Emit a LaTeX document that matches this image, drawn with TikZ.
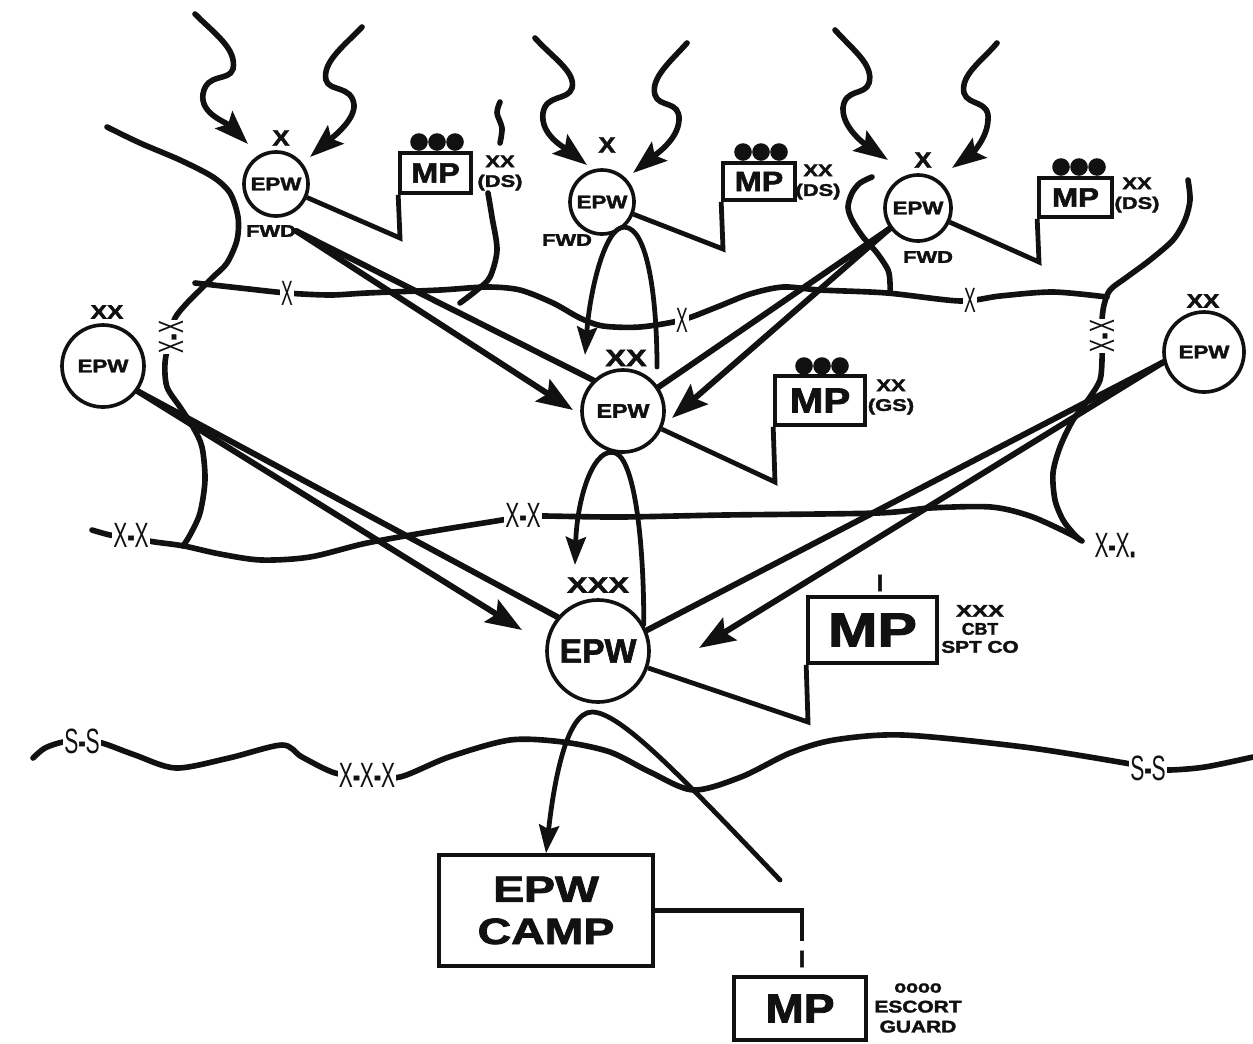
\documentclass[tikz,border=0pt]{standalone}
\usepackage{fontspec}
\setmainfont{Liberation Sans}[BoldFeatures={FakeBold=2}]
\usepackage{graphicx}
\usetikzlibrary{arrows.meta}
\definecolor{EPWInk}{HTML}{111111}
\newcommand{\hsx}[2]{\scalebox{#1}[1]{#2}}
\tikzset{
  pcircle/.style={circle,draw=EPWInk,fill=white,line width=2.6pt,inner sep=0pt,
    text=EPWInk,font=\bfseries\fontsize{13}{13}\selectfont},
  pbox/.style={rectangle,draw=EPWInk,fill=white,line width=2.6pt,inner sep=0pt,text=EPWInk},
  pdot/.style={circle,fill=EPWInk,inner sep=0pt,minimum size=4.4mm},
  plbl/.style={inner sep=0pt,text=EPWInk,font=\bfseries\fontsize{14}{14}\selectfont},
  pside/.style={inner sep=0pt,align=center,text=EPWInk,font=\bfseries\fontsize{12}{14}\selectfont},
  pbmark/.style={inner sep=0.8pt,fill=white,text=EPWInk,font=\fontsize{25}{25}\selectfont},
  pbound/.style={line width=4pt,line cap=round,line join=round,EPWInk},
  plink/.style={line width=3.4pt,line join=miter,EPWInk},
  pline/.style={line width=4.2pt,line cap=round,EPWInk},
  parrow/.style={pline,-{Stealth[length=9mm,width=6.5mm,inset=1.5mm]}},
  pwave/.style={line width=4pt,line cap=round,EPWInk,-{Stealth[length=8.5mm,width=6mm,inset=1.5mm]}},
  ploop/.style={line width=3.4pt,line cap=round,EPWInk,-{Stealth[length=7mm,width=5mm,inset=1mm]}}
}

\begin{document}
\begin{tikzpicture}[x=0.25mm,y=-0.25mm]
  \path[use as bounding box] (0,0) rectangle (1253,1043);

  \draw[pbound] plot[smooth] coordinates {(107,127) (140,143) (180,160) (213,177) (230,193) (238,217)
    (237,240) (227,263) (213,277) (200,290) (187,303) (175,318) (170,337) (165,363) (167,387)
    (180,407) (193,427) (202,447) (205,480) (200,513) (190,535) (183,546)};
  \draw[pbound] plot[smooth] coordinates {(195,283) (240,288) (287,293) (330,295) (367,293) (440,290)
    (487,287) (520,290) (553,303) (580,318) (603,326) (640,327) (682,320) (717,307) (750,294)
    (783,287) (820,290) (887,293) (960,301) (1000,296) (1053,292) (1107,297)};
  \draw[pbound] plot[smooth] coordinates {(1188,180) (1190,200) (1185,220) (1173,240) (1150,260)
    (1127,277) (1110,290) (1104,305) (1102,320) (1102,336) (1102,360) (1100,380) (1090,397)
    (1073,420) (1060,447) (1053,473) (1055,500) (1063,520) (1073,533) (1080,540)};
  \draw[pbound] plot[smooth] coordinates {(500,102) (497,113) (502,128) (500,143)};
  \draw[pbound] plot[smooth] coordinates {(488,193) (492,217) (497,250) (490,277) (477,290) (460,303)};
  \draw[pbound] plot[smooth] coordinates {(872,177) (860,183) (852,193) (848,207) (852,220) (863,237)
    (877,253) (888,270) (890,283) (890,293)};
  \draw[pbound] plot[smooth] coordinates {(92,530) (110,535) (131,538) (155,542) (184,546) (220,554)
    (261,560) (310,557) (367,543) (440,530) (502,520) (523,516) (545,516) (620,517) (725,515)
    (878,513) (930,508) (991,507) (1030,516) (1068,533) (1082,541)};
  \draw[pbound] plot[smooth] coordinates {(33,758) (45,748) (63,742) (82,741) (102,743) (135,755)
    (176,768) (229,758) (282,745) (302,757) (335,773) (367,776) (400,777) (449,757) (510,740)
    (563,742) (610,752) (650,772) (693,790) (741,777) (790,753) (834,740) (903,735) (1024,747)
    (1125,763) (1148,768) (1169,770) (1205,767) (1253,757)};

  \node[pbmark] (bx1) at (287,293) {\hsx{0.5}{X}};
  \node[pbmark] (bx2) at (682,320) {\hsx{0.5}{X}};
  \node[pbmark] (bx3) at (970,300) {\hsx{0.5}{X}};
  \node[pbmark,rotate=90] (bvL) at (171,337) {\hsx{0.55}{X\textbf{-}X}};
  \node[pbmark,rotate=90] (bvR) at (1102,336) {\hsx{0.55}{X\textbf{-}X}};
  \node[pbmark] (bbL) at (131,535) {\hsx{0.6}{X\textbf{-}X}};
  \node[pbmark] (bbM) at (523,515) {\hsx{0.6}{X\textbf{-}X}};
  \node[pbmark] (bbR) at (1115,545) {\hsx{0.6}{X\textbf{-}X\textbf{.}}};
  \node[pbmark] (bsL) at (82,741) {\hsx{0.6}{S\textbf{-}S}};
  \node[pbmark] (bsM) at (367,775) {\hsx{0.6}{X\textbf{-}X\textbf{-}X}};
  \node[pbmark] (bsR) at (1148,768) {\hsx{0.6}{S\textbf{-}S}};

  \node[pcircle,minimum size=16mm] (e1) at (276,184) {\hsx{1.22}{EPW}};
  \node[pcircle,minimum size=16mm] (e2) at (602,202) {\hsx{1.22}{EPW}};
  \node[pcircle,minimum size=16.5mm] (e3) at (918,208) {\hsx{1.22}{EPW}};
  \node[pcircle,minimum size=20.5mm] (eL) at (103,366) {\hsx{1.22}{EPW}};
  \node[pcircle,minimum size=20mm] (eR) at (1204,352) {\hsx{1.22}{EPW}};
  \node[pcircle,minimum size=20.5mm,font=\bfseries\fontsize{14}{14}\selectfont] (eM) at (623,411) {\hsx{1.18}{EPW}};
  \node[pcircle,minimum size=25.5mm,font=\bfseries\fontsize{24}{24}\selectfont] (eX) at (598,651) {EPW};

  \node[plbl,font=\bfseries\fontsize{16}{16}\selectfont] (x1) at (281,138) {\hsx{1.15}{X}};
  \node[plbl,font=\bfseries\fontsize{16}{16}\selectfont] (x2) at (607,145) {\hsx{1.15}{X}};
  \node[plbl,font=\bfseries\fontsize{16}{16}\selectfont] (x3) at (923,160) {\hsx{1.15}{X}};
  \node[plbl,font=\bfseries\fontsize{12}{12}\selectfont] (fwd1) at (271,231) {\hsx{1.3}{FWD}};
  \node[plbl,font=\bfseries\fontsize{12}{12}\selectfont] (fwd2) at (567,240) {\hsx{1.3}{FWD}};
  \node[plbl,font=\bfseries\fontsize{12}{12}\selectfont] (fwd3) at (928,257) {\hsx{1.3}{FWD}};
  \node[plbl] (xxL) at (107,312) {\hsx{1.25}{XX}};
  \node[plbl] (xxR) at (1203,301) {\hsx{1.25}{XX}};
  \node[plbl,font=\bfseries\fontsize{17}{17}\selectfont] (xxM) at (626,358) {\hsx{1.3}{XX}};
  \node[plbl,font=\bfseries\fontsize{16}{16}\selectfont] (xxx) at (598,585) {\hsx{1.38}{XXX}};

  \node[pbox,minimum width=17.75mm,minimum height=10mm,font=\bfseries\fontsize{20}{20}\selectfont]
    (mp1) at (435.5,173) {\hsx{1.15}{MP}};
  \node[pbox,minimum width=18mm,minimum height=9.25mm,font=\bfseries\fontsize{20}{20}\selectfont]
    (mp2) at (759,181.5) {\hsx{1.15}{MP}};
  \node[pbox,minimum width=18.25mm,minimum height=9.75mm,font=\bfseries\fontsize{19}{19}\selectfont]
    (mp3) at (1075.5,197.5) {\hsx{1.17}{MP}};
  \node[pbox,minimum width=22.5mm,minimum height=12.25mm,font=\bfseries\fontsize{25}{25}\selectfont]
    (mpM) at (820,400.5) {\hsx{1.15}{MP}};
  \node[pbox,minimum width=32.25mm,minimum height=16.5mm,font=\bfseries\fontsize{34}{34}\selectfont]
    (mpC) at (872.5,630) {\hsx{1.24}{MP}};
  \node[pbox,minimum width=33mm,minimum height=15.75mm,font=\bfseries\fontsize{29}{29}\selectfont]
    (mpE) at (800,1008.5) {\hsx{1.13}{MP}};
  \node[pbox,minimum width=53.5mm,minimum height=27.75mm,align=center,font=\bfseries\fontsize{26}{30}\selectfont]
    (camp) at (546,910.5) {\hsx{1.27}{EPW}\\\hsx{1.27}{CAMP}};

  \node[pdot] (mp1a) at (419,142) {};
  \node[pdot] (mp1b) at (437,142) {};
  \node[pdot] (mp1c) at (455,142) {};
  \node[pdot] (mp2a) at (743,152) {};
  \node[pdot] (mp2b) at (761,152) {};
  \node[pdot] (mp2c) at (779,152) {};
  \node[pdot] (mp3a) at (1061,167) {};
  \node[pdot] (mp3b) at (1079,167) {};
  \node[pdot] (mp3c) at (1097,167) {};
  \node[pdot] (mpMa) at (804,366) {};
  \node[pdot] (mpMb) at (822,366) {};
  \node[pdot] (mpMc) at (840,366) {};
  \node[plbl,font=\bfseries\fontsize{17}{17}\selectfont] (ecC) at (880,583) {I};
  \node[plbl,font=\bfseries\fontsize{17}{17}\selectfont] (ecE) at (802,959) {I};

  \node[pside] (sd1) at (500,173) {\hsx{1.3}{XX}\\\hsx{1.3}{(DS)}};
  \node[pside] (sd2) at (818,182) {\hsx{1.3}{XX}\\\hsx{1.3}{(DS)}};
  \node[pside] (sd3) at (1137,195) {\hsx{1.3}{XX}\\\hsx{1.3}{(DS)}};
  \node[pside] (sdM) at (891,397) {\hsx{1.3}{XX}\\\hsx{1.3}{(GS)}};
  \node[pside,font=\bfseries\fontsize{12}{12.8}\selectfont] (sdC) at (980,629)
    {\hsx{1.42}{XXX}\\\hsx{1.05}{CBT}\\\hsx{1.23}{SPT CO}};
  \node[pside,font=\bfseries\fontsize{12}{14.2}\selectfont] (sdE) at (918,1008)
    {\hsx{1.15}{oooo}\\\hsx{1.24}{ESCORT}\\\hsx{1.24}{GUARD}};

  \coordinate (k1) at (400,238);
  \coordinate (k2) at (723,249);
  \coordinate (k3) at (1039,262);
  \coordinate (kM) at (775,482);
  \coordinate (kX) at (808,722);
  \draw[plink] (e1) -- (k1) -- (mp1.south west);
  \draw[plink] (e2) -- (k2) -- (mp2.south west);
  \draw[plink] (e3) -- (k3) -- (mp3.south west);
  \draw[plink] (eM) -- (kM) -- (mpM.south west);
  \draw[plink] (eX) -- (kX) -- (mpC.south west);
  \draw[plink,shorten >=2.5mm] (camp.east) -| (ecE.north);

  \coordinate (tA1) at (573,410);
  \coordinate (tA3) at (672,418);
  \coordinate (tA2) at (522,630);
  \coordinate (tA4) at (699,648);
  \draw[parrow] (fwd1.east) -- (tA1);
  \draw[pline] (fwd1.east) -- (eM.134);
  \draw[parrow] (e3.216) -- (tA3);
  \draw[pline] (e3.216) -- (eM.34);
  \draw[parrow] (eL.-36) -- (tA2);
  \draw[pline] (eL.-36) -- (eX.140);
  \draw[parrow] (eR.194) -- (tA4);
  \draw[pline] (eR.194) -- (eX.23);

  \coordinate (lA) at (657,367);
  \coordinate (tLA) at (585,355);
  \coordinate (tLB) at (575,565);
  \coordinate (lC) at (780,880);
  \coordinate (aC) at (592,712);
  \draw[ploop] (lA) .. controls (657,300) and (648,228) .. (e2.-48)
    .. controls (605,226) and (590,290) .. (tLA);
  \draw[ploop] (eX.30) .. controls (644,540) and (634,451) .. (eM.255)
    .. controls (592,451) and (577,500) .. (tLB);
  \draw[ploop] (lC) .. controls (680,775) and (620,712) .. (aC)
    .. controls (565,712) and (553,790) .. (camp.north);

  \coordinate (s1L) at (195,14);
  \coordinate (t1L) at (248,144);
  \coordinate (s1R) at (362,27);
  \coordinate (t1R) at (310,157);
  \coordinate (s2L) at (535,38);
  \coordinate (t2L) at (587,165);
  \coordinate (s2R) at (687,43);
  \coordinate (t2R) at (633,173);
  \coordinate (s3L) at (835,30);
  \coordinate (t3L) at (888,160);
  \coordinate (s3R) at (997,43);
  \coordinate (t3R) at (952,168);
  \draw[pwave] (s1L) .. controls (215,34) and (237,49) .. (233,69) .. controls (229,82) and (207,72) .. (203,94)
    .. controls (200,114) and (226,122) .. (t1L);
  \draw[pwave] (s1R) .. controls (345,45) and (322,62) .. (326,80) .. controls (329,92) and (352,85) .. (354,105)
    .. controls (355,120) and (333,137) .. (t1R);
  \draw[pwave] (s2L) .. controls (553,58) and (576,72) .. (572,88) .. controls (568,101) and (546,94) .. (543,113)
    .. controls (540,135) and (565,148) .. (t2L);
  \draw[pwave] (s2R) .. controls (672,60) and (650,78) .. (655,95) .. controls (659,108) and (680,100) .. (679,120)
    .. controls (678,140) and (655,155) .. (t2R);
  \draw[pwave] (s3L) .. controls (853,50) and (874,65) .. (869,83) .. controls (865,96) and (845,88) .. (843,108)
    .. controls (842,128) and (866,145) .. (t3L);
  \draw[pwave] (s3R) .. controls (983,60) and (960,75) .. (964,93) .. controls (968,106) and (990,100) .. (988,120)
    .. controls (987,140) and (970,155) .. (t3R);
\end{tikzpicture}
\end{document}
